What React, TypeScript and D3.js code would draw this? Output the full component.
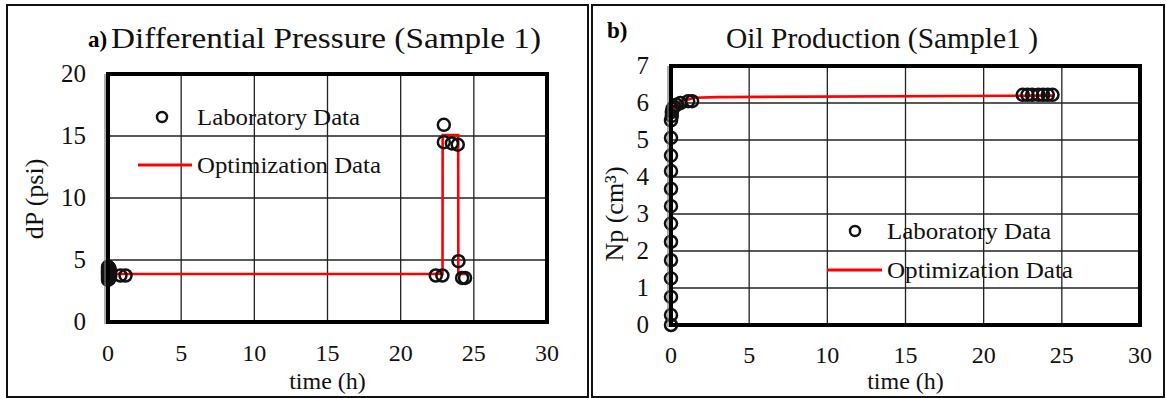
import React, { useEffect, useRef } from "react";
import * as d3 from "d3";

// ---- data ----
const dpLabTime = [0, 0, 0, 0, 0, 0, 0, 0, 0.1, 0.1, 0.1, 0.15, 0.15, 0.05, 0.85, 1.2, 22.4, 22.85, 22.95, 22.95, 23.5, 23.9, 23.95, 24.2, 24.4];
const dpLabValue = [3.4, 3.55, 3.7, 3.85, 4.0, 4.15, 4.3, 4.45, 3.5, 3.9, 4.3, 3.7, 4.1, 4.4, 3.75, 3.75, 3.75, 3.75, 15.9, 14.5, 14.4, 14.3, 4.9, 3.55, 3.55];
const dpOptTime = [0, 0.02, 0.1, 1, 22.86, 22.87, 23.93, 23.94, 24.45];
const dpOptValue = [3.5, 4.3, 3.9, 3.87, 3.87, 15.08, 15.08, 3.87, 3.87];

const npLabTime = [0, 0, 0, 0, 0, 0, 0, 0, 0, 0, 0, 0, 0, 0.05, 0.05, 0.1, 0.2, 0.35, 0.6, 1.1, 1.35, 22.5, 22.8, 23.1, 23.5, 23.8, 24.1, 24.4];
const npLabValue = [0, 0.27, 0.76, 1.26, 1.75, 2.25, 2.74, 3.21, 3.68, 4.16, 4.58, 5.06, 5.53, 5.65, 5.76, 5.85, 5.9, 5.95, 6.0, 6.05, 6.05, 6.22, 6.22, 6.22, 6.22, 6.22, 6.22, 6.22];
const npOptTime = [0, 0.03, 0.1, 0.3, 0.7, 1.5, 3, 24.5];
const npOptValue = [0, 5.5, 5.8, 5.95, 6.05, 6.14, 6.16, 6.2];

const xTicks = [0, 5, 10, 15, 20, 25, 30];
const dpTicks = [0, 5, 10, 15, 20];
const npTicks = [0, 1, 2, 3, 4, 5, 6, 7];

const FONT = "'Liberation Serif', 'Times New Roman', serif";

type Panel = {
  box: [number, number, number, number];
  plot: [number, number, number, number];
  yMax: number;
  yTicks: number[];
  tag: string;
  tagPos: [number, number];
  title: string;
  titlePos: [number, number, number];
  yLabel: string;
  yLabelPos: [number, number];
  xTickY: number;
  legend: { circle: [number, number]; line: [number, number, number]; textX: number; labW: number; optW: number };
  labT: number[];
  labV: number[];
  optT: number[];
  optV: number[];
};

const panels: Panel[] = [
  {
    box: [7, 5, 588, 397],
    plot: [108, 74, 547, 322],
    yMax: 20,
    yTicks: dpTicks,
    tag: "a)",
    tagPos: [88, 47],
    title: "Differential Pressure (Sample 1)",
    titlePos: [111, 48, 430],
    yLabel: "dP (psi)",
    yLabelPos: [43, 199],
    xTickY: 361,
    legend: { circle: [162, 117], line: [138, 192, 165], textX: 197, labW: 163, optW: 184 },
    labT: dpLabTime,
    labV: dpLabValue,
    optT: dpOptTime,
    optV: dpOptValue,
  },
  {
    box: [592, 5, 1164, 397],
    plot: [671, 66, 1140, 325],
    yMax: 7,
    yTicks: npTicks,
    tag: "b)",
    tagPos: [607, 38],
    title: "Oil Production (Sample1 )",
    titlePos: [726, 48, 312],
    yLabel: "Np (cm³)",
    yLabelPos: [623, 214],
    xTickY: 363,
    legend: { circle: [855, 231], line: [827, 882, 270], textX: 887, labW: 164, optW: 186 },
    labT: npLabTime,
    labV: npLabValue,
    optT: npOptTime,
    optV: npOptValue,
  },
];

const App = () => {
  const svgRef = useRef<SVGSVGElement>(null);

  useEffect(() => {
    const svg = d3.select(svgRef.current);
    svg.selectAll("*").remove();
    svg.append("rect").attr("width", 1166).attr("height", 398).attr("fill", "#fff");

    panels.forEach((p) => {
      const [bx0, by0, bx1, by1] = p.box;
      const [px0, py0, px1, py1] = p.plot;
      const g = svg.append("g");

      g.append("rect")
        .attr("x", bx0)
        .attr("y", by0)
        .attr("width", bx1 - bx0)
        .attr("height", by1 - by0)
        .attr("fill", "#fff")
        .attr("stroke", "#111")
        .attr("stroke-width", 2);

      const x = d3.scaleLinear().domain([0, 30]).range([px0, px1]);
      const y = d3.scaleLinear().domain([0, p.yMax]).range([py1, py0]);

      // grid
      g.selectAll(".vg")
        .data(xTicks.slice(1, -1))
        .join("line")
        .attr("x1", (d) => x(d))
        .attr("x2", (d) => x(d))
        .attr("y1", py0)
        .attr("y2", py1)
        .attr("stroke", "#222")
        .attr("stroke-width", 1.3);
      g.selectAll(".hg")
        .data(p.yTicks.slice(1, -1))
        .join("line")
        .attr("x1", px0)
        .attr("x2", px1)
        .attr("y1", (d) => y(d))
        .attr("y2", (d) => y(d))
        .attr("stroke", "#222")
        .attr("stroke-width", 1.3);

      // tick labels
      g.selectAll(".xt")
        .data(xTicks)
        .join("text")
        .attr("x", (d) => x(d))
        .attr("y", p.xTickY)
        .attr("text-anchor", "middle")
        .style("font-family", FONT)
        .style("font-size", "24px")
        .attr("fill", "#111")
        .text((d) => d);
      g.selectAll(".yt")
        .data(p.yTicks)
        .join("text")
        .attr("x", px0 - 22)
        .attr("y", (d) => y(d) + 8)
        .attr("text-anchor", "end")
        .style("font-family", FONT)
        .style("font-size", "25px")
        .attr("fill", "#111")
        .text((d) => d);

      // optimization line
      const line = d3
        .line<number>()
        .x((d, i) => x(p.optT[i]))
        .y((d) => y(d));
      g.append("path")
        .attr("d", line(p.optV))
        .attr("fill", "none")
        .attr("stroke", "#ff0000")
        .attr("stroke-width", 2.6);

      // laboratory circles
      g.selectAll(".lab")
        .data(p.labV)
        .join("circle")
        .attr("cx", (d, i) => x(p.labT[i]))
        .attr("cy", (d) => y(d))
        .attr("r", 6)
        .attr("fill", "none")
        .attr("stroke", "#111")
        .attr("stroke-width", 2.5);

      // plot frame
      g.append("rect")
        .attr("x", px0)
        .attr("y", py0)
        .attr("width", px1 - px0)
        .attr("height", py1 - py0)
        .attr("fill", "none")
        .attr("stroke", "#000")
        .attr("stroke-width", 4);
      g.append("line")
        .attr("x1", px0 - 3)
        .attr("x2", px0 - 3)
        .attr("y1", py0)
        .attr("y2", py1 + 2)
        .attr("stroke", "#777")
        .attr("stroke-width", 1.2);

      // titles
      g.append("text")
        .attr("x", p.tagPos[0])
        .attr("y", p.tagPos[1])
        .style("font-family", FONT)
        .style("font-size", "23px")
        .style("font-weight", "bold")
        .text(p.tag);
      g.append("text")
        .attr("x", p.titlePos[0])
        .attr("y", p.titlePos[1])
        .attr("textLength", p.titlePos[2])
        .attr("lengthAdjust", "spacingAndGlyphs")
        .style("font-family", FONT)
        .style("font-size", "30px")
        .attr("fill", "#111")
        .text(p.title);

      g.append("text")
        .attr("transform", `translate(${p.yLabelPos[0]},${p.yLabelPos[1]}) rotate(-90)`)
        .attr("text-anchor", "middle")
        .style("font-family", FONT)
        .style("font-size", "26px")
        .attr("fill", "#111")
        .text(p.yLabel);
      g.append("text")
        .attr("x", (px0 + px1) / 2)
        .attr("y", 389)
        .attr("text-anchor", "middle")
        .style("font-family", FONT)
        .style("font-size", "24px")
        .attr("fill", "#111")
        .text("time (h)");

      // legend
      const lg = p.legend;
      g.append("circle")
        .attr("cx", lg.circle[0])
        .attr("cy", lg.circle[1])
        .attr("r", 5)
        .attr("fill", "none")
        .attr("stroke", "#111")
        .attr("stroke-width", 2.5);
      g.append("text")
        .attr("x", lg.textX)
        .attr("y", lg.circle[1] + 8)
        .attr("textLength", lg.labW)
        .attr("lengthAdjust", "spacingAndGlyphs")
        .style("font-family", FONT)
        .style("font-size", "23px")
        .attr("fill", "#111")
        .text("Laboratory Data");
      g.append("line")
        .attr("x1", lg.line[0])
        .attr("x2", lg.line[1])
        .attr("y1", lg.line[2])
        .attr("y2", lg.line[2])
        .attr("stroke", "#ff0000")
        .attr("stroke-width", 2.8);
      g.append("text")
        .attr("x", lg.textX)
        .attr("y", lg.line[2] + 8)
        .attr("textLength", lg.optW)
        .attr("lengthAdjust", "spacingAndGlyphs")
        .style("font-family", FONT)
        .style("font-size", "23px")
        .attr("fill", "#111")
        .text("Optimization Data");
    });
  }, []);

  return (
    <svg
      ref={svgRef}
      width={1166}
      height={398}
      style={{ position: "absolute", left: 0, top: 0 }}
    ></svg>
  );
};

export default App;
